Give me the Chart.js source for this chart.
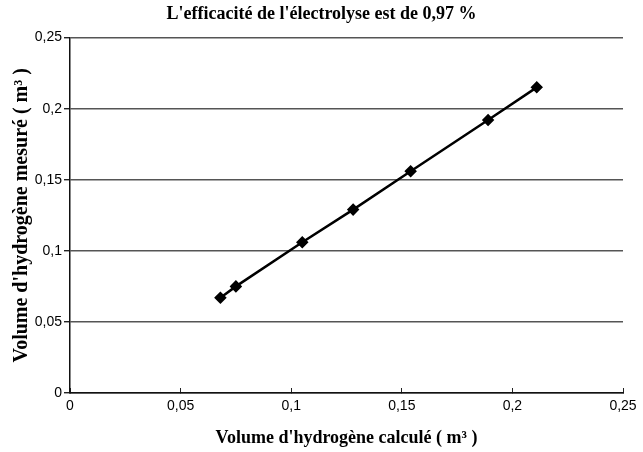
<!DOCTYPE html>
<html>
<head>
<meta charset="utf-8">
<script src="https://cdn.jsdelivr.net/npm/chart.js@4"></script>
<style>
  body { margin: 0; background: #fff; }
  canvas { display: block; }
</style>
</head>
<body>
<canvas id="grafica" width="643" height="452"></canvas>
<script>
//DONNEES
const volumeCalcule = [0.068, 0.075, 0.105, 0.128, 0.154, 0.189, 0.211];
const volumeMesure = [0.067, 0.075, 0.106, 0.129, 0.156, 0.192, 0.215];
const titre = "L'efficacité de l'électrolyse est de 0,97 %";
const titreX = "Volume d'hydrogène calculé ( m³ )";
const titreY = "Volume d'hydrogène mesuré ( m³ )";
const minAxe = 0;
const maxAxe = 0.25;
const pasAxe = 0.05;
//DONNEES

const serif = "'Liberation Serif', 'Times New Roman', serif";
const sans = "'Liberation Sans', Arial, sans-serif";

function virgule(v) { // 0.05 -> 0,05
    return Number(v.toFixed(2)).toString().replace('.', ',');
}

const points = volumeCalcule.map((x, i) => ({ x: x, y: volumeMesure[i] }));

const config = {
    type: 'scatter',
    data: {
        datasets: [{
            data: points,
            showLine: true,
            borderColor: '#000',
            borderWidth: 2.5,
            backgroundColor: '#000',
            pointStyle: 'rectRot',
            pointRadius: 4.5,
            tension: 0
        }]
    },
    options: {
        responsive: false,
        animation: false,
        layout: { padding: { left: 0, right: 0, top: 0, bottom: 0 } },
        plugins: {
            legend: { display: false },
            tooltip: { enabled: false },
            title: {
                display: true,
                text: titre,
                color: '#000',
                font: { family: serif, size: 18, weight: 'bold' },
                padding: { top: 4, bottom: 12 }
            }
        },
        scales: {
            x: {
                type: 'linear',
                min: minAxe,
                max: maxAxe,
                afterFit: (s) => { s.height = 59; s.paddingRight = 20; s.paddingLeft = 0; },
                ticks: {
                    stepSize: pasAxe,
                    color: '#000',
                    font: { family: sans, size: 14 },
                    padding: 10,
                    maxRotation: 0,
                    callback: (v) => virgule(v)
                },
                grid: { drawOnChartArea: false, drawTicks: true, tickLength: -5, color: '#222', lineWidth: 1 },
                border: { display: true, color: '#111', width: 1.5 },
                title: {
                    display: true,
                    text: titreX,
                    color: '#000',
                    font: { family: serif, size: 18, weight: 'bold' },
                    padding: { top: 0, bottom: 3 }
                }
            },
            y: {
                type: 'linear',
                min: minAxe,
                max: maxAxe,
                afterFit: (s) => { s.width = 70; },
                ticks: {
                    stepSize: pasAxe,
                    color: '#000',
                    font: { family: sans, size: 14 },
                    padding: 2,
                    callback: (v) => virgule(v)
                },
                grid: { color: '#555', lineWidth: 1.4, tickLength: 6, tickColor: '#222' },
                border: { display: true, color: '#111', width: 1.5 },
                title: {
                    display: true,
                    text: titreY,
                    color: '#000',
                    font: { family: serif, size: 20, weight: 'bold' },
                    padding: { top: 10, bottom: 0 }
                }
            }
        }
    }
};

const chart = new Chart(document.getElementById('grafica'), config);
</script>
</body>
</html>
